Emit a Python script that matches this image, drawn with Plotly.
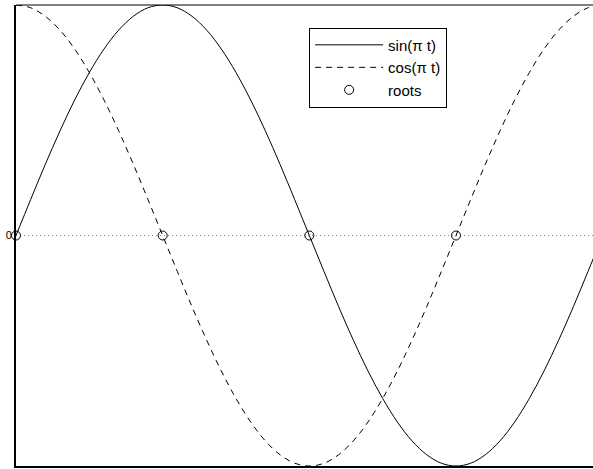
import plotly.graph_objects as go

# sample points t = 0, 0.05, ..., 2.0
t = [round(0.05 * k, 2) for k in range(41)]

sin_vals = [0.0, 0.156, 0.309, 0.454, 0.588, 0.707, 0.809, 0.891, 0.951, 0.988, 1.0,
            0.988, 0.951, 0.891, 0.809, 0.707, 0.588, 0.454, 0.309, 0.156, 0.0,
            -0.156, -0.309, -0.454, -0.588, -0.707, -0.809, -0.891, -0.951, -0.988, -1.0,
            -0.988, -0.951, -0.891, -0.809, -0.707, -0.588, -0.454, -0.309, -0.156, 0.0]

cos_vals = [1.0, 0.988, 0.951, 0.891, 0.809, 0.707, 0.588, 0.454, 0.309, 0.156, 0.0,
            -0.156, -0.309, -0.454, -0.588, -0.707, -0.809, -0.891, -0.951, -0.988, -1.0,
            -0.988, -0.951, -0.891, -0.809, -0.707, -0.588, -0.454, -0.309, -0.156, 0.0,
            0.156, 0.309, 0.454, 0.588, 0.707, 0.809, 0.891, 0.951, 0.988, 1.0]

root_t = [0, 0.5, 1, 1.5]
root_y = [0, 0, 0, 0]

fig = go.Figure()
fig.add_trace(go.Scatter(x=t, y=sin_vals, mode='lines', name='sin(π t)',
                         line=dict(color='black', width=1, shape='spline')))
fig.add_trace(go.Scatter(x=t, y=cos_vals, mode='lines', name='cos(π t)',
                         line=dict(color='black', width=1, dash='6px,5px', shape='spline')))
fig.add_trace(go.Scatter(x=root_t, y=root_y, mode='markers', name='roots',
                         marker=dict(symbol='circle-open', size=9, color='black',
                                     line=dict(width=1)),
                         cliponaxis=False))

# top border only (no right border, plot runs off the page)
fig.add_shape(type='line', xref='paper', yref='paper', x0=0, x1=1, y0=1, y1=1,
              line=dict(color='black', width=1))

fig.update_layout(
    width=593, height=469,
    margin=dict(l=16, r=0, t=5, b=3, autoexpand=False),
    paper_bgcolor='white', plot_bgcolor='white',
    font=dict(family='Liberation Sans, Arial, sans-serif', color='black'),
    showlegend=True,
    legend=dict(x=0.508, y=0.951, xanchor='left', yanchor='top',
                bordercolor='black', borderwidth=1, bgcolor='white',
                font=dict(size=15), itemwidth=68, tracegroupgap=0),
    xaxis=dict(range=[0, 1.967], showgrid=False, zeroline=False, showticklabels=False,
               ticks='', showline=True, linecolor='black', linewidth=2, automargin=False),
    yaxis=dict(range=[-1, 1], tickvals=[0], ticktext=['0'], showgrid=True,
               gridcolor='#888888', griddash='1px,3px', gridwidth=1, zeroline=False,
               ticks='', showline=True, linecolor='black', linewidth=2,
               tickfont=dict(size=11, color='black'), ticklabelstandoff=0,
               automargin=False),
)

fig.write_html("out.html", config={'displayModeBar': False},
               post_script="document.body.style.margin='0';")
